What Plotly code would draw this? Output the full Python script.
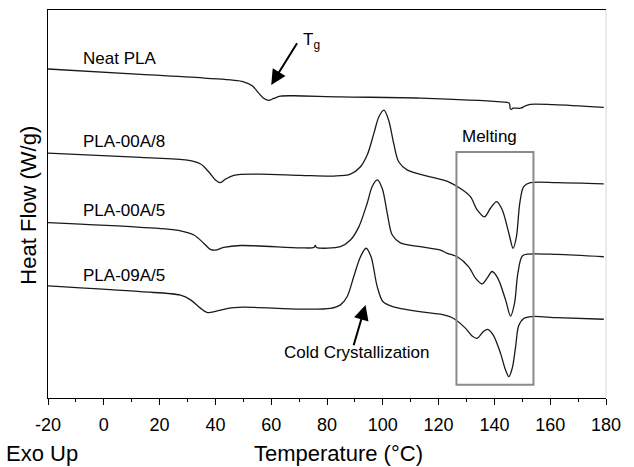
import plotly.graph_objects as go

# Temperature (°C) and heat flow (arbitrary offset units, exo up)
t_neat = [-20, 13.2, 37.1, 50.1, 53.2, 55.6, 57.4, 59.1, 60.9, 63.3, 68.1, 84.8, 113.5,
          142.2, 145.3, 145.7, 146.1, 146.7, 149.4, 151.1, 152.9, 161.3, 179.2]
y_neat = [8.48, 8.34, 8.24, 8.15, 8.05, 7.85, 7.72, 7.67, 7.72, 7.78, 7.79, 7.76, 7.73,
          7.63, 7.60, 7.45, 7.44, 7.47, 7.47, 7.53, 7.57, 7.56, 7.49]

t_00a8 = [-20, 13.2, 29.9, 34.7, 37.6, 40.0, 41.8, 43.6, 46.6, 55, 70.5, 82.4, 88.4, 92,
          94.4, 96.8, 98.6, 100.4, 102.1, 103.9, 105.7, 108.7, 115.9, 121.5, 124.5, 127.8,
          131.4, 133.8, 136.4, 138.6, 140.8, 142.8, 145.2, 146.7, 147.9, 149.1, 150.5,
          152.9, 162.5, 179.2]
y_00a8 = [6.31, 6.20, 6.13, 6.03, 5.83, 5.62, 5.55, 5.64, 5.74, 5.77, 5.74, 5.72, 5.77, 5.96,
          6.26, 6.82, 7.25, 7.42, 7.16, 6.56, 6.09, 5.88, 5.72, 5.62, 5.54, 5.40,
          5.19, 4.85, 4.67, 4.89, 5.06, 4.85, 4.24, 3.86, 4.16, 5.02, 5.45,
          5.55, 5.55, 5.52]

t_00a5 = [-20, 13.2, 27.5, 32.3, 35.8, 38.2, 40, 43, 49, 70.5, 75.3, 75.8, 76.3, 84.8,
          88.4, 91.4, 94.4, 96.2, 98.0, 99.8, 101.6, 103.4, 106.3, 113.5, 120.7, 123.1,
          126.7, 130.8, 133.2, 135.6, 137.4, 139.2, 141.2, 144, 145.8, 147.2, 148.4, 150,
          152.3, 162.5, 179.2]
y_00a5 = [4.52, 4.40, 4.31, 4.20, 3.99, 3.83, 3.81, 3.88, 3.93, 3.87, 3.88, 3.93, 3.88, 3.90,
          4.07, 4.41, 5.02, 5.45, 5.62, 5.40, 4.76, 4.20, 4.00, 3.90, 3.81, 3.73,
          3.64, 3.38, 3.09, 2.94, 3.09, 3.26, 3.09, 2.53, 2.11, 2.44, 3.21, 3.66,
          3.71, 3.70, 3.64]

t_09a5 = [-20, 13.2, 27.5, 31.1, 34.7, 37.3, 40, 44.5, 50, 70.5, 81.2, 84.8, 87.2, 89.6,
          92, 94, 95.8, 98, 100.1, 103.9, 115.9, 120.7, 125.4, 129.6, 132, 133.8, 136,
          137.6, 139.6, 142.2, 144, 145.2, 146.4, 147.6, 148.7, 150.5, 153.5, 162.5, 179.2]
y_09a5 = [2.89, 2.74, 2.65, 2.53, 2.31, 2.20, 2.23, 2.31, 2.34, 2.29, 2.31, 2.40, 2.61, 3.13,
          3.64, 3.86, 3.64, 2.87, 2.48, 2.35, 2.20, 2.16, 2.05, 1.80, 1.60, 1.54, 1.71,
          1.77, 1.62, 1.15, 0.72, 0.55, 0.77, 1.32, 1.86, 2.05, 2.10, 2.07, 2.03]

x_ticks = [-20, 0, 20, 40, 60, 80, 100, 120, 140, 160, 180]

series = [(t_neat, y_neat, "Neat PLA"), (t_00a8, y_00a8, "PLA-00A/8"),
          (t_00a5, y_00a5, "PLA-00A/5"), (t_09a5, y_09a5, "PLA-09A/5")]

FONT = "Liberation Sans, Arial, Helvetica, sans-serif"

fig = go.Figure()
for t, y, name in series:
    fig.add_trace(go.Scatter(x=t, y=y, mode="lines", name=name,
                             line=dict(color="#1a1a1a", width=1.3, shape="spline", smoothing=0.9),
                             showlegend=False))

labels = [("Neat PLA", -8.35, 8.76), ("PLA-00A/8", -8.35, 6.60),
          ("PLA-00A/5", -8.35, 4.82), ("PLA-09A/5", -8.35, 3.17)]
for txt, x, y in labels:
    fig.add_annotation(x=x, y=y, text=txt, showarrow=False, xanchor="left", yanchor="middle",
                       font=dict(size=17, color="black", family=FONT))

fig.add_annotation(x=127.8, y=6.75, text="Melting", showarrow=False, xanchor="left",
                   yanchor="middle", font=dict(size=17, color="black", family=FONT))
fig.add_annotation(x=90.6, y=1.16, text="Cold Crystallization", showarrow=False,
                   xanchor="center", yanchor="middle", font=dict(size=17, color="black", family=FONT))
fig.add_annotation(x=70.5, y=9.20, text="T<sub>g</sub>", showarrow=False, xanchor="left",
                   yanchor="middle", font=dict(size=17, color="black", family=FONT))

# arrows
fig.add_annotation(x=60.0, y=8.07, ax=69.6, ay=9.18, axref="x", ayref="y", xref="x", yref="y",
                   text="", showarrow=True, arrowhead=2, arrowsize=1.5, arrowwidth=2, arrowcolor="black")
fig.add_annotation(x=93.8, y=2.40, ax=89.4, ay=1.32, axref="x", ayref="y", xref="x", yref="y",
                   text="", showarrow=True, arrowhead=2, arrowsize=1.5, arrowwidth=2, arrowcolor="black")

# melting box
fig.add_shape(type="rect", x0=126.4, x1=154.0, y0=0.34, y1=6.34, xref="x", yref="y",
              line=dict(color="#8a8a8a", width=2), fillcolor="rgba(0,0,0,0)")
# right frame (light)
fig.add_shape(type="line", x0=1, x1=1, y0=0, y1=1, xref="paper", yref="paper",
              line=dict(color="#d8d8d8", width=1))

fig.add_annotation(x=0.520, y=-0.142, xref="paper", yref="paper", text="Temperature (°C)",
                   showarrow=False, xanchor="center", yanchor="middle",
                   font=dict(size=22, color="black", family=FONT))
fig.add_annotation(x=-0.078, y=-0.142, xref="paper", yref="paper", text="Exo Up",
                   showarrow=False, xanchor="left", yanchor="middle",
                   font=dict(size=22, color="black", family=FONT))
fig.add_annotation(x=-0.035, y=0.497, xref="paper", yref="paper", text="Heat Flow (W/g)",
                   textangle=-90, showarrow=False, xanchor="center", yanchor="middle",
                   font=dict(size=22, color="black", family=FONT))

fig.update_layout(
    width=634, height=467,
    margin=dict(l=47.5, r=28, t=10, b=69),
    paper_bgcolor="white", plot_bgcolor="white",
    font=dict(family=FONT, color="black"),
    xaxis=dict(range=[-20, 180], tickvals=x_ticks, ticktext=[str(v) for v in x_ticks],
               ticks="outside", ticklen=6, tickwidth=1, tickcolor="black",
               minor=dict(dtick=10, ticks="outside", ticklen=3, tickcolor="black"),
               showline=True, linecolor="black", linewidth=1.3, mirror=True,
               showgrid=False, zeroline=False, tickfont=dict(size=18, color="black"),
               ticklabelstandoff=4),
    yaxis=dict(range=[0, 10], showticklabels=False, ticks="", showline=True,
               linecolor="black", linewidth=1.3, showgrid=False, zeroline=False),
)

fig.write_html("out.html")
